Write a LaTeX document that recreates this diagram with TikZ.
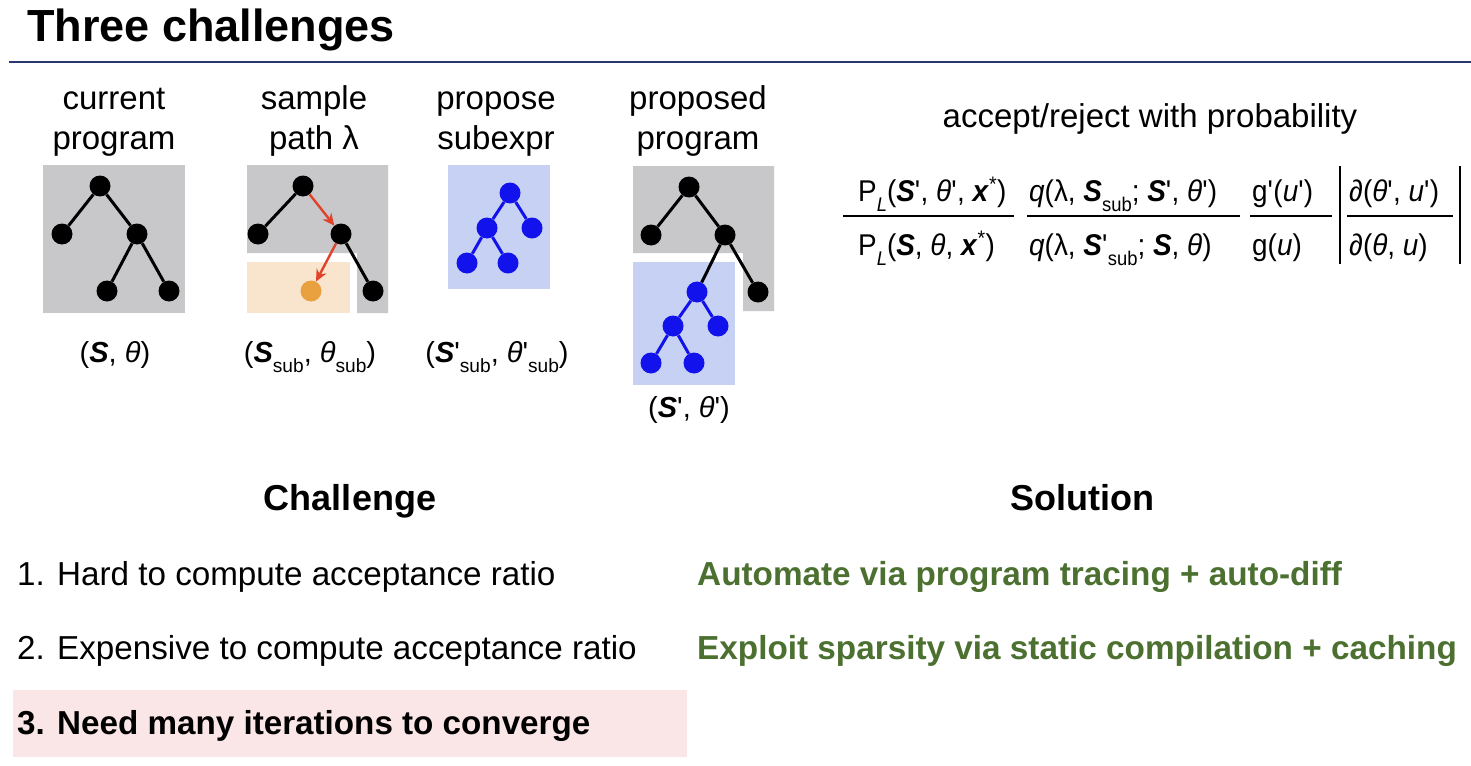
\documentclass[tikz,border=0pt]{standalone}
\usepackage{fontspec}
\usepackage{graphicx}
\setmainfont{Liberation Sans}
\newfontfamily\mathsans[FakeStretch=0.93]{Liberation Sans}
\usetikzlibrary{arrows.meta}
\definecolor{rulecol}{RGB}{40,55,110}
\definecolor{boxgray}{RGB}{200,199,202}
\definecolor{boxblue}{RGB}{198,209,244}
\definecolor{boxpeach}{RGB}{249,229,205}
\definecolor{treeblue}{RGB}{18,18,236}
\definecolor{subnode}{RGB}{233,160,62}
\definecolor{pathred}{RGB}{224,66,44}
\definecolor{solgreen}{RGB}{76,112,48}
\definecolor{hilite}{RGB}{251,230,231}
\newcommand\pr{\textquotesingle}
\newcommand\bS{\textbf{\textit{S}}}
\newcommand\bx{\textbf{\textit{x}}}
\newcommand\tht{\textit{θ}}
% subscripts set low, as in the slide's equation editor
\newcommand\lowsub[1]{\raisebox{-0.36em}{\scalebox{0.66}{#1}}}
\begin{document}
\begin{tikzpicture}[x=1pt,y=-1pt,
  dot/.style={circle,fill=black,inner sep=0pt,minimum size=21pt},
  bdot/.style={dot,fill=treeblue},
  edge/.style={line width=3pt},
  bedge/.style={edge,treeblue},
  redarrow/.style={pathred,line width=2.4pt,-{Stealth[length=12pt,width=11pt]}},
  toplabel/.style={anchor=base,inner sep=0pt,font=\fontsize{33}{38}\selectfont},
  pairlabel/.style={anchor=base,inner sep=0pt,font=\fontsize{29}{34}\selectfont},
  formula/.style={anchor=base west,inner sep=0pt,font=\mathsans\fontsize{30}{34}\selectfont},
  fracrule/.style={line width=2pt},
  listitem/.style={anchor=base west,inner sep=0pt,font=\fontsize{33.2}{38}\selectfont},
  heading/.style={anchor=base,inner sep=0pt,font=\bfseries\fontsize{36}{40}\selectfont},
  solution/.style={anchor=base west,inner sep=0pt,text=solgreen,font=\bfseries\fontsize{33.3}{38}\selectfont}]
\useasboundingbox[fill=white] (0,0) rectangle (1471,765);

% title and rule
\node[anchor=base west,inner sep=0pt,font=\bfseries\fontsize{45}{50}\selectfont] (title) at (27,42) {Three challenges};
\draw[rulecol,line width=2pt] (9,62) -- (1471,62);

% column headings
\node[toplabel] (h1a) at (114,110) {current};
\node[toplabel] (h1b) at (114,149) {program};
\node[toplabel] (h2a) at (314,110) {sample};
\node[toplabel] (h2b) at (314,149) {path λ};
\node[toplabel] (h3a) at (496,110) {propose};
\node[toplabel] (h3b) at (496,149) {subexpr};
\node[toplabel] (h4a) at (698,110) {proposed};
\node[toplabel] (h4b) at (698,149) {program};

% current program
\fill[boxgray] (43,165) rectangle (185,313);
\node[dot] (a0) at (100,186) {};
\node[dot] (a1) at (62,234) {};
\node[dot] (a2) at (137,234) {};
\node[dot] (a3) at (107,291) {};
\node[dot] (a4) at (169,291) {};
\draw[edge] (a0) -- (a1);
\draw[edge] (a0) -- (a2);
\draw[edge] (a2) -- (a3);
\draw[edge] (a2) -- (a4);

% sample path
\fill[boxgray] (247,165) -- (388,165) -- (388,313) -- (357,313) -- (357,253) -- (247,253) -- cycle;
\fill[boxpeach] (247,262) rectangle (350,313);
\node[dot] (b0) at (303,186) {};
\node[dot] (b1) at (258,234) {};
\node[dot] (b2) at (341,234) {};
\node[dot] (b4) at (373,291) {};
\node[dot,fill=subnode] (b3) at (311,291) {};
\draw[edge] (b0) -- (b1);
\draw[edge] (b2) -- (b4);
\draw[redarrow] (b0) -- (b2);
\draw[redarrow] (b2) -- (b3);

% proposed subexpression
\fill[boxblue] (448,165) rectangle (550,289);
\node[bdot] (c0) at (510,193) {};
\node[bdot] (c1) at (487,228) {};
\node[bdot] (c2) at (532,228) {};
\node[bdot] (c3) at (467,263) {};
\node[bdot] (c4) at (508,263) {};
\draw[bedge] (c0) -- (c1);
\draw[bedge] (c0) -- (c2);
\draw[bedge] (c1) -- (c3);
\draw[bedge] (c1) -- (c4);

% proposed program
\fill[boxgray] (633,166) -- (774,166) -- (774,311) -- (743,311) -- (743,253) -- (633,253) -- cycle;
\fill[boxblue] (633,262) rectangle (735,385);
\node[dot] (d0) at (689,187) {};
\node[dot] (d1) at (651,235) {};
\node[dot] (d2) at (725,235) {};
\node[dot] (d4) at (758,292) {};
\node[bdot] (e0) at (697,292) {};
\node[bdot] (e1) at (673,326) {};
\node[bdot] (e2) at (718,326) {};
\node[bdot] (e3) at (651,363) {};
\node[bdot] (e4) at (694,363) {};
\draw[edge] (d0) -- (d1);
\draw[edge] (d0) -- (d2);
\draw[edge] (d2) -- (d4);
\draw[edge] (d2) -- (e0);
\draw[bedge] (e0) -- (e1);
\draw[bedge] (e0) -- (e2);
\draw[bedge] (e1) -- (e3);
\draw[bedge] (e1) -- (e4);

% state labels
\node[pairlabel] (p1) at (115,362) {(\bS, \tht)};
\node[pairlabel] (p2) at (310,362) {(\bS\lowsub{sub}, \tht\lowsub{sub})};
\node[pairlabel] (p3) at (497,362) {(\bS\pr\lowsub{sub}, \tht\pr\lowsub{sub})};
\node[pairlabel] (p4) at (689,417) {(\bS\pr, \tht\pr)};

% acceptance probability
\node[anchor=base,inner sep=0pt,font=\fontsize{33}{38}\selectfont] (acc) at (1150,128) {accept/reject with probability};
\node[formula] (n1) at (858,201) {P\lowsub{\textit{L}}(\bS\pr, \tht\pr, \bx\textsuperscript{*})};
\node[formula] (m1) at (858,255) {P\lowsub{\textit{L}}(\bS, \tht, \bx\textsuperscript{*})};
\node[formula] (n2) at (1029,201) {\textit{q}(λ, \bS\lowsub{sub}; \bS\pr, \tht\pr)};
\node[formula] (m2) at (1029,255) {\textit{q}(λ, \bS\pr\lowsub{sub}; \bS, \tht)};
\node[formula] (n3) at (1252,201) {g\pr(\textit{u}\pr)};
\node[formula] (m3) at (1252,255) {g(\textit{u})};
\node[formula] (n4) at (1349,201) {∂(\tht\pr, \textit{u}\pr)};
\node[formula] (m4) at (1349,255) {∂(\tht, \textit{u})};
\draw[fracrule] (843,216) -- (1014,216);
\draw[fracrule] (1027,216) -- (1240,216);
\draw[fracrule] (1250,216) -- (1332,216);
\draw[fracrule] (1347,216) -- (1453,216);
\draw[line width=2.6pt] (1340,166) -- (1340,264);
\draw[line width=2.6pt] (1460,166) -- (1460,264);

% challenges and solutions
\fill[hilite] (13,690) rectangle (687,757);
\node[heading] (chal) at (350,510) {Challenge};
\node[heading] (sol) at (1082,510) {Solution};
\node[listitem] (l1) at (17,585) {1. Hard to compute acceptance ratio};
\node[listitem] (l2) at (17,659) {2. Expensive to compute acceptance ratio};
\node[listitem,font=\bfseries\fontsize{33.2}{38}\selectfont] (l3) at (17,734) {3. Need many iterations to converge};
\node[solution] (s1) at (697,585) {Automate via program tracing + auto-diff};
\node[solution] (s2) at (697,659) {Exploit sparsity via static compilation + caching};
\end{tikzpicture}
\end{document}
